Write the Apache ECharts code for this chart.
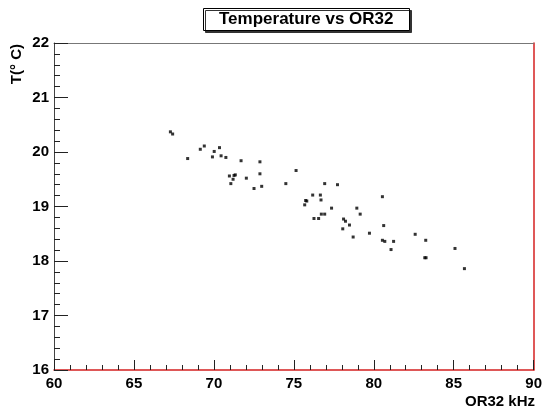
<!DOCTYPE html>
<html>
<head>
<meta charset="utf-8">
<script src="https://cdn.jsdelivr.net/npm/echarts@6/dist/echarts.min.js"></script>
<style>
  html, body { margin: 0; padding: 0; background: #fff; }
  #chart { width: 545px; height: 410px; }
</style>
</head>
<body>
<div id="chart"></div>
<script>
// OR32 frequency (kHz) and temperature (°C)
const or32 = [
  67.28, 67.42, 68.36, 69.15, 69.40, 70.02, 70.35, 69.91, 70.45, 70.75,
  71.70, 72.88, 72.88, 70.97, 71.26, 71.34, 71.20, 71.06, 72.03, 72.51,
  72.99, 75.14, 74.50, 76.93, 77.73, 75.74, 75.81, 75.68, 76.18, 76.66,
  76.70, 76.26, 76.55, 76.72, 76.93, 77.36, 78.94, 79.15, 78.11, 78.23,
  78.48, 78.06, 78.71, 79.73, 80.54, 80.62, 80.54, 80.69, 81.24, 81.08,
  82.59, 83.25, 85.08, 83.19, 83.27, 85.67
]
const temperature = [
  20.37, 20.33, 19.88, 20.05, 20.11, 20.01, 20.08, 19.91, 19.93, 19.90,
  19.84, 19.82, 19.60, 19.56, 19.57, 19.58, 19.50, 19.42, 19.52, 19.33,
  19.37, 19.66, 19.42, 19.42, 19.40, 19.11, 19.10, 19.03, 19.21, 19.21,
  19.12, 18.78, 18.78, 18.86, 18.86, 18.97, 18.97, 18.86, 18.77, 18.73,
  18.66, 18.59, 18.44, 18.51, 19.18, 18.65, 18.38, 18.36, 18.36, 18.21,
  18.49, 18.38, 18.23, 18.06, 18.06, 17.86
]
const xRange = [60, 90]
const yRange = [16, 22]

const points = or32.map((x, i) => [x, temperature[i]])

const red = '#d42020'
const font = '"Liberation Sans", Arial, sans-serif'

const chart = echarts.init(document.getElementById('chart'))
chart.setOption({
  animation: false,
  backgroundColor: '#fff',
  title: {
    text: 'Temperature vs OR32',
    left: 203,
    top: 8,
    padding: [2, 16],
    backgroundColor: '#fff',
    borderColor: '#000',
    borderWidth: 1,
    shadowColor: '#333',
    shadowOffsetX: 2,
    shadowOffsetY: 2,
    shadowBlur: 0,
    textStyle: { fontFamily: font, fontSize: 17, fontWeight: 'bold', color: '#000', lineHeight: 19 }
  },
  grid: { left: 54, right: 9, top: 43, bottom: 40 },
  xAxis: [
    {
      type: 'value',
      min: xRange[0],
      max: xRange[1],
      interval: 5,
      axisLine: { lineStyle: { color: red, width: 1.5 } },
      axisTick: { inside: true, length: 10, lineStyle: { color: '#222' } },
      minorTick: { show: true, splitNumber: 5, length: 5, lineStyle: { color: '#222' } },
      splitLine: { show: false },
      axisLabel: { margin: 6, color: '#000', fontFamily: font, fontSize: 15, fontWeight: 'bold' }
    },
    {
      type: 'value',
      position: 'top',
      min: xRange[0],
      max: xRange[1],
      axisLine: { lineStyle: { color: '#777' } },
      axisTick: { show: false },
      axisLabel: { show: false },
      splitLine: { show: false }
    }
  ],
  yAxis: [
    {
      type: 'value',
      min: yRange[0],
      max: yRange[1],
      interval: 1,
      axisLine: { lineStyle: { color: '#444' } },
      axisTick: { inside: true, length: 14, lineStyle: { color: '#222' } },
      minorTick: { show: true, splitNumber: 5, length: 6, lineStyle: { color: '#222' } },
      splitLine: { show: false },
      axisLabel: { margin: 5, color: '#000', fontFamily: font, fontSize: 15, fontWeight: 'bold' }
    },
    {
      type: 'value',
      position: 'right',
      min: yRange[0],
      max: yRange[1],
      axisLine: { lineStyle: { color: red, width: 1.5 } },
      axisTick: { show: false },
      axisLabel: { show: false },
      splitLine: { show: false }
    }
  ],
  graphic: [
    {
      type: 'text',
      right: 10,
      top: 394,
      style: { text: 'OR32 kHz', fill: '#000', font: 'bold 15px ' + font }
    },
    {
      type: 'text',
      x: 9,
      y: 44,
      rotation: Math.PI / 2,
      style: { text: 'T(° C)', fill: '#000', font: 'bold 15px ' + font, align: 'right', verticalAlign: 'top' }
    }
  ],
  series: [{
    type: 'scatter',
    data: points,
    symbol: 'rect',
    symbolSize: 3,
    itemStyle: { color: '#000' }
  }]
})
</script>
</body>
</html>
